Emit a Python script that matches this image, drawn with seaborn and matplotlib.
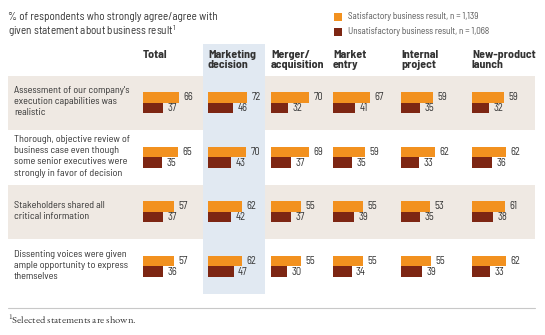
import matplotlib
matplotlib.use("Agg")
import matplotlib.pyplot as plt
from matplotlib.patches import Rectangle
import pandas as pd
import seaborn as sns

# ---- data -------------------------------------------------------------
columns = ["Total", "Marketing\ndecision", "Merger/\nacquisition",
           "Market\nentry", "Internal\nproject", "New-product\nlaunch"]
statements = [
    "Assessment of our company's\nexecution capabilities was\nrealistic",
    "Thorough, objective review of\nbusiness case even though\nsome senior executives were\nstrongly in favor of decision",
    "Stakeholders shared all\ncritical information",
    "Dissenting voices were given\nample opportunity to express\nthemselves",
]
# rows = statements, cols = columns
satisfactory = [
    [66, 72, 70, 67, 59, 59],
    [65, 70, 69, 59, 62, 62],
    [57, 62, 55, 55, 53, 61],
    [57, 62, 55, 55, 55, 62],
]
unsatisfactory = [
    [37, 46, 32, 41, 35, 32],
    [35, 43, 37, 35, 33, 36],
    [37, 42, 37, 39, 35, 38],
    [36, 47, 30, 34, 39, 33],
]
series = ["Satisfactory business result, n = 1,139",
          "Unsatisfactory business result, n = 1,068"]

ORANGE = "#F2911F"
DARK = "#7D2613"
BEIGE = "#EFE9E3"
BLUE = "#E1E9F2"
TXT = "#333333"

sns.set_theme(style="white")
SANS = ["Barlow Semi Condensed", "Archivo Narrow", "DejaVu Sans"]
HEAD = ["Barlow Semi Condensed", "DejaVu Sans"]
SERIF = ["EB Garamond", "Cormorant Garamond", "Liberation Serif", "DejaVu Serif"]
plt.rcParams["font.family"] = SANS

W, H = 545, 335
fig = plt.figure(figsize=(W / 100, H / 100), dpi=100)

# background canvas in pixel coordinates
bg = fig.add_axes([0, 0, 1, 1])
bg.set_xlim(0, W)
bg.set_ylim(H, 0)
bg.axis("off")

top, pitch = 75.5, 54.5
for i in range(4):
    if i % 2 == 0:
        bg.add_patch(Rectangle((8, top + i * pitch), 527, pitch, color=BEIGE, lw=0, zorder=0))
bg.add_patch(Rectangle((203, 44), 62, top + 4 * pitch - 44, color=BLUE, lw=0, zorder=1))
bg.plot([8, 535], [308, 308], color="#C8C8C8", lw=0.8)

bg.text(8, 17.5, "% of respondents who strongly agree/agree with", fontsize=8, color=TXT, va="center")
bg.text(8, 31, "given statement about business result$^{\\mathregular{1}}$", fontsize=8, color=TXT, va="center")

for k, (lab, col) in enumerate(zip(series, [ORANGE, DARK])):
    y = 16.5 + 15 * k
    bg.add_patch(Rectangle((334, y - 4), 8, 8, color=col, lw=0))
    bg.text(348, y, lab, fontsize=6.6, color="#555555", va="center")

col_x = [143, 208, 271, 333, 401, 472]
for cx, name in zip(col_x, columns):
    bg.text(cx, 49.5, name, fontsize=8.6, fontweight="bold", color=TXT,
            va="top", ha="left", linespacing=1.05, family=HEAD)

for i, s in enumerate(statements):
    bg.text(14, top + i * pitch + pitch / 2 - 1, s, fontsize=7.3, color=TXT,
            va="center", ha="left", linespacing=1.32)

bg.text(8, 320, "$^{\\mathregular{1}}$Selected statements are shown.", fontsize=7.6,
        color=TXT, va="center", family=SERIF)

# ---- bars: one small axes per column -----------------------------------
scale = 0.545  # px per percentage point
ax_w = 100 * scale
for j, cx in enumerate(col_x):
    rows = []
    for i in range(4):
        rows.append({"stmt": i, "series": series[0], "value": satisfactory[i][j]})
        rows.append({"stmt": i, "series": series[1], "value": unsatisfactory[i][j]})
    df = pd.DataFrame(rows)
    ax = fig.add_axes([cx / W, 1 - (top + 4 * pitch) / H, ax_w / W, 4 * pitch / H])
    ax.patch.set_alpha(0)
    sns.barplot(data=df, y="stmt", x="value", hue="series", orient="h",
                palette=[ORANGE, DARK], width=0.39, dodge=True, legend=False,
                ax=ax, saturation=1, linewidth=0)
    ax.set_xlim(0, 100)
    ax.set_ylim(3.5, -0.5)
    ax.axis("off")
    for cont in ax.containers:
        ax.bar_label(cont, padding=3.2, fontsize=7.6, color=TXT)

fig.savefig("out.png", dpi=100)
